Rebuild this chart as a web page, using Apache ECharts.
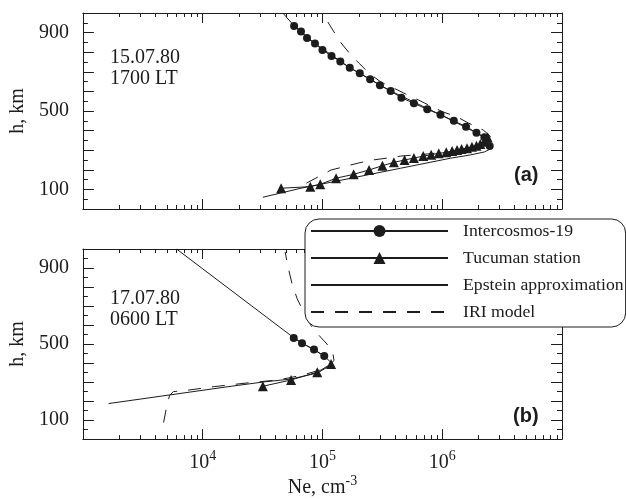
<!DOCTYPE html>
<html>
<head>
<meta charset="utf-8">
<script src="https://cdn.jsdelivr.net/npm/echarts@6/dist/echarts.min.js"></script>
<style>
html, body { margin: 0; padding: 0; background: #fff; }
#chart { width: 626px; height: 499px; }
</style>
</head>
<body>
<div id="chart"></div>
<script>
// ---- data: Ne in cm^-3, h in km ----
// (a) 15.07.80, 1700 LT
var icA_ne = [5.8e4, 6.62e4, 7.43e4, 8.66e4, 1.0e5, 1.19e5, 1.41e5, 1.69e5, 2.05e5, 2.50e5, 3.02e5, 3.71e5, 4.56e5, 5.80e5, 7.50e5, 9.67e5, 1.25e6, 1.58e6, 1.93e6, 2.25e6, 2.49e6];
var icA_h  = [934, 905, 872, 844, 811, 781, 752, 721, 692, 662, 631, 602, 568, 539, 509, 481, 450, 420, 389, 366, 321];
var tuA_ne = [4.52e4, 7.92e4, 9.59e4, 1.30e5, 1.82e5, 2.45e5, 3.17e5, 3.95e5, 4.85e5, 5.80e5, 6.94e5, 8.09e5, 9.36e5, 1.08e6, 1.21e6, 1.33e6, 1.45e6, 1.61e6, 1.77e6, 1.93e6, 2.08e6, 2.25e6, 2.39e6];
var tuA_h  = [106, 114, 126, 157, 177, 199, 221, 238, 250, 260, 270, 277, 284, 289, 296, 301, 306, 310, 318, 323, 332, 343, 366];
var epA_ne = [4.67e4, 5.8e4, 8.66e4, 1.69e5, 3.71e5, 9.67e5, 1.93e6, 2.33e6, 2.57e6, 2.52e6, 2.25e6, 1.72e6, 1.17e6, 4.50e5, 1.73e5, 6.62e4, 3.18e4];
var epA_h  = [1000, 934, 844, 721, 602, 481, 389, 357, 327, 306, 291, 276, 259, 208, 157, 106, 60];
var iriA_ne = [1.11e5, 1.22e5, 1.43e5, 1.73e5, 2.01e5, 2.44e5, 3.07e5, 3.93e5, 4.95e5, 6.35e5, 8.30e5, 1.02e6, 1.34e6, 1.65e6, 2.20e6, 2.52e6, 2.42e6, 1.72e6, 1.17e6, 7.54e5, 4.50e5, 3.50e5, 2.63e5, 2.01e5, 1.48e5, 1.18e5, 8.83e4, 6.62e4];
var iriA_h  = [954, 913, 847, 786, 745, 694, 648, 617, 587, 556, 520, 495, 469, 439, 403, 372, 347, 311, 291, 281, 270, 260, 250, 235, 214, 199, 158, 117];

// (b) 17.07.80, 0600 LT
var icB_ne = [5.76e4, 6.75e4, 8.50e4, 1.035e5];
var icB_h  = [532, 504, 471, 437];
var tuB_ne = [3.18e4, 5.47e4, 9.05e4, 1.18e5];
var tuB_h  = [278, 311, 352, 395];
var epB_ne = [6.05e3, 5.79e4, 6.84e4, 8.50e4, 1.035e5, 1.18e5, 1.13e5, 9.12e4, 5.47e4, 3.26e4, 1.73e4, 1.64e3];
var epB_h  = [1000, 532, 503, 471, 437, 403, 383, 348, 316, 301, 278, 187];
var iriB_ne = [4.72e3, 4.99e3, 5.29e3, 5.71e3, 7.05e3, 1.25e4, 2.40e4, 4.27e4, 6.62e4, 8.83e4, 1.11e5, 1.25e5, 1.22e5, 1.09e5, 9.35e4, 8.02e4, 7.02e4, 6.14e4, 5.58e4, 5.17e4, 4.88e4];
var iriB_h  = [87, 168, 230, 250, 255, 276, 296, 311, 335, 357, 383, 413, 454, 500, 546, 597, 663, 740, 816, 903, 985];

// axis labels
var hLabels = [100, 500, 900];
var neExpLabels = [4, 5, 6];
var minorMantissa = [2, 3, 4, 5, 6, 7, 8, 9];
var decades = [1e3, 1e4, 1e5, 1e6];

var names = ['Intercosmos-19', 'Tucuman station', 'Epstein approximation', 'IRI model'];

var serif = '"Liberation Serif", "Times New Roman", serif';
var ink = '#1c1c1c';

function pts(ne, h) {
  return ne.map(function (v, i) { return [v, h[i]]; });
}

var xMinor = [];
decades.forEach(function (d) {
  minorMantissa.forEach(function (m) { xMinor.push([m * d, 0]); });
});

var myChart = echarts.init(document.getElementById('chart'));

function xAxisFor(grid, pos, labels) {
  return {
    type: 'log', logBase: 10, gridIndex: grid, position: pos,
    min: 1e3, max: 1e7,
    axisLine: { show: true, onZero: false, lineStyle: { color: ink, width: 1 } },
    axisTick: { show: true, inside: true, length: 10, lineStyle: { color: ink } },
    splitLine: { show: false },
    axisLabel: {
      show: labels, margin: 8,
      formatter: function (v) {
        var e = Math.round(Math.log10(v));
        return neExpLabels.indexOf(e) >= 0 ? '{b|10}{s|' + e + '}' : '';
      },
      rich: {
        b: { fontFamily: serif, fontSize: 20, color: ink, lineHeight: 26, verticalAlign: 'bottom' },
        s: { fontFamily: serif, fontSize: 14, color: ink, lineHeight: 26, verticalAlign: 'bottom', padding: [0, 0, 10, 0] }
      }
    },
    name: labels ? '{b|Ne, cm}{s|-3}' : '',
    nameLocation: 'middle', nameGap: 31,
    nameTextStyle: {
      rich: {
        b: { fontFamily: serif, fontSize: 20, color: ink, lineHeight: 24, verticalAlign: 'bottom' },
        s: { fontFamily: serif, fontSize: 14, color: ink, lineHeight: 24, verticalAlign: 'bottom', padding: [0, 0, 10, 0] }
      }
    }
  };
}

function yAxisFor(grid, pos, labels) {
  return {
    type: 'value', gridIndex: grid, position: pos,
    min: 0, max: 1000, interval: 100,
    axisLine: { show: true, onZero: false, lineStyle: { color: ink, width: 1 } },
    axisTick: { show: true, inside: true, length: 11, lineStyle: { color: ink } },
    minorTick: { show: true, splitNumber: 2, length: 5, lineStyle: { color: ink } },
    splitLine: { show: false },
    minorSplitLine: { show: false },
    axisLabel: {
      show: labels, margin: 14,
      fontFamily: serif, fontSize: 20, color: ink,
      formatter: function (v) { return hLabels.indexOf(v) >= 0 ? String(v) : ''; }
    },
    name: labels ? 'h, km' : '',
    nameLocation: 'middle', nameGap: 51,
    nameTextStyle: { fontFamily: serif, fontSize: 20, color: ink }
  };
}

function profile(name, data, xi, yi) {
  var s = {
    name: name, type: 'line', data: data,
    xAxisIndex: xi, yAxisIndex: yi,
    lineStyle: { color: ink, width: 1 },
    itemStyle: { color: ink },
    symbol: 'none',
    z: 3
  };
  if (name === 'Intercosmos-19') { s.symbol = 'circle'; s.symbolSize = 8; }
  if (name === 'Tucuman station') { s.symbol = 'triangle'; s.symbolSize = 10; }
  if (name === 'IRI model') { s.lineStyle.type = [13, 11]; s.z = 2; }
  return s;
}

function minorTicks(xi, yi) {
  return {
    type: 'custom', data: xMinor, xAxisIndex: xi, yAxisIndex: yi,
    silent: true, clip: false, z: 1,
    renderItem: function (params, api) {
      var v = api.value(0);
      var b = api.coord([v, 0]);
      var t = api.coord([v, 1000]);
      var x = Math.round(b[0]) + 0.5;
      return {
        type: 'group',
        children: [
          { type: 'line', shape: { x1: x, y1: b[1], x2: x, y2: b[1] - 4 }, style: { stroke: ink, lineWidth: 1 } },
          { type: 'line', shape: { x1: x, y1: t[1], x2: x, y2: t[1] + 4 }, style: { stroke: ink, lineWidth: 1 } }
        ]
      };
    }
  };
}

var titleText = { fontFamily: serif, fontSize: 20, fontWeight: 'normal', color: ink, lineHeight: 21 };
var tagText = { fontFamily: '"Liberation Sans", Arial, sans-serif', fontSize: 20, fontWeight: 'bold', color: ink };

// legend: lines only for the last two entries
var legendData = names.map(function (n, i) {
  return i < 2 ? { name: n } : { name: n, itemStyle: { opacity: 0 } };
});

var option = {
  animation: false,
  backgroundColor: '#fff',
  title: [
    { text: '15.07.80\n1700 LT', left: 110, top: 47, padding: 0, textStyle: titleText },
    { text: '17.07.80\n0600 LT', left: 110, top: 288, padding: 0, textStyle: titleText },
    { text: '(a)', left: 514, top: 165, padding: 0, textStyle: tagText },
    { text: '(b)', left: 513, top: 406, padding: 0, textStyle: tagText }
  ],
  grid: [
    { left: 81, top: 13, width: 481, height: 196 },
    { left: 81, top: 249, width: 481, height: 196 }
  ],
  xAxis: [
    xAxisFor(0, 'bottom', false),
    xAxisFor(0, 'top', false),
    xAxisFor(1, 'bottom', true),
    xAxisFor(1, 'top', false)
  ],
  yAxis: [
    yAxisFor(0, 'left', true),
    yAxisFor(0, 'right', false),
    yAxisFor(1, 'left', true),
    yAxisFor(1, 'right', false)
  ],
  legend: {
    data: legendData, orient: 'vertical',
    left: 305, top: 219,
    selectedMode: false,
    backgroundColor: '#fff',
    borderColor: ink, borderWidth: 1, borderRadius: 14,
    padding: [3, 2, 6, 5],
    itemWidth: 137, itemHeight: 15, itemGap: 9,
    textStyle: { fontFamily: serif, fontSize: 17.7, color: ink, lineHeight: 18, padding: [0, 0, 0, 10] },
    z: 10
  },
  series: [
    profile(names[3], pts(iriA_ne, iriA_h), 0, 0),
    profile(names[2], pts(epA_ne, epA_h), 0, 0),
    profile(names[1], pts(tuA_ne, tuA_h), 0, 0),
    profile(names[0], pts(icA_ne, icA_h), 0, 0),
    profile(names[3], pts(iriB_ne, iriB_h), 2, 2),
    profile(names[2], pts(epB_ne, epB_h), 2, 2),
    profile(names[1], pts(tuB_ne, tuB_h), 2, 2),
    profile(names[0], pts(icB_ne, icB_h), 2, 2),
    minorTicks(0, 0),
    minorTicks(2, 2)
  ]
};

myChart.setOption(option);
</script>
</body>
</html>
